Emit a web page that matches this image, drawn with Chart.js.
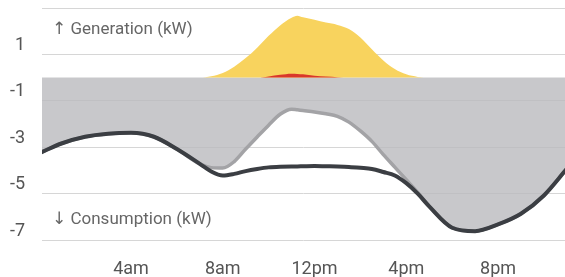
<!DOCTYPE html>
<html><head><meta charset="utf-8">
<style>html,body{margin:0;padding:0;background:#fff}#wrap{width:565px;height:277px;position:relative}</style>
<script src="https://cdn.jsdelivr.net/npm/chart.js@4"></script>
</head><body><div id="wrap"><canvas id="c"></canvas></div>
<script>
const hours = [0,1,2,3,4,5,6,7,7.5,8,8.5,9,9.5,10,10.5,11,11.25,11.5,12,12.5,13,13.5,14,14.5,15,15.5,16,16.5,17,18,19,20,21,22,23];
const consumption = [-3.26,-2.83,-2.55,-2.42,-2.38,-2.55,-3.08,-3.72,-4.05,-4.22,-4.15,-4.03,-3.94,-3.87,-3.84,-3.83,-3.83,-3.82,-3.81,-3.82,-3.83,-3.85,-3.89,-3.94,-4.07,-4.22,-4.55,-5.0,-5.55,-6.47,-6.62,-6.33,-5.87,-5.08,-3.93];
const netGrid = [-3.26,-2.83,-2.55,-2.42,-2.38,-2.55,-3.08,-3.72,-3.88,-3.9,-3.62,-3.08,-2.56,-2.05,-1.58,-1.36,-1.39,-1.42,-1.48,-1.56,-1.67,-1.92,-2.3,-2.75,-3.32,-3.86,-4.4,-4.95,-5.55,-6.47,-6.62,-6.33,-5.87,-5.08,-3.93];
const generation = [0,0,0,0,0,0,0,0,0.06,0.2,0.47,0.84,1.29,1.8,2.25,2.58,2.67,2.6,2.49,2.37,2.27,2.09,1.73,1.22,0.74,0.37,0.14,0.03,0,0,0,0,0,0,0];
const exported = [0,0,0,0,0,0,0,0,0,0,0,0,0,0.05,0.12,0.17,0.16,0.14,0.08,0.05,0.02,0,0,0,0,0,0,0,0,0,0,0,0,0,0];
const timeTicks = [4,8,12,16,20];
const timeLabels = ['4am','8am','12pm','4pm','8pm'];
const yTicks = [-7,-5,-3,-1,1,3];

const pts = arr => hours.map((h,i)=>({x:h,y:arr[i]}));
const FONT = "Roboto, 'DejaVu Sans', sans-serif";

const notes = {
  id:'notes',
  afterDraw(chart){
    const ctx = chart.ctx, a = chart.chartArea;
    ctx.save();
    ctx.font = "17px " + FONT;
    ctx.fillStyle = '#666';
    ctx.textBaseline = 'middle';
    ctx.fillText('↑ Generation (kW)', a.left + 10, a.top + 22);
    ctx.fillText('↓ Consumption (kW)', a.left + 10, a.top + 212);
    ctx.restore();
  }
};

new Chart(document.getElementById('c'), {
  type:'line',
  data:{datasets:[
    {data:pts(consumption), borderColor:'#3b3e43', borderWidth:4, fill:false, order:1},
    {data:pts(exported), borderWidth:0, backgroundColor:'#d9372b', fill:'origin', order:2},
    {data:pts(generation), borderWidth:0, backgroundColor:'#f8d35e', fill:'origin', order:3},
    {data:pts(netGrid), borderColor:'#a3a3a6', borderWidth:3.5, backgroundColor:'rgba(186,186,190,0.8)', fill:'origin', order:4}
  ]},
  options:{
    responsive:true, maintainAspectRatio:false, animation:false,
    layout:{padding:{top:8,left:0,right:0,bottom:0}},
    elements:{point:{radius:0}, line:{cubicInterpolationMode:'monotone'}},
    plugins:{legend:{display:false}, tooltip:{enabled:false}},
    scales:{
      x:{type:'linear', min:0.12, max:22.92,
        afterBuildTicks(s){ s.ticks = timeTicks.map(v=>({value:v})); },
        afterFit(s){ s.height = 37; s.paddingLeft = 0; s.paddingRight = 0; },
        grid:{display:false}, border:{display:false},
        ticks:{callback:(v)=>timeLabels[timeTicks.indexOf(v)], color:'#555', font:{family:FONT, size:18}, padding:11, maxRotation:0, autoSkip:false}
      },
      y:{min:-7, max:3,
        afterBuildTicks(s){ s.ticks = yTicks.map(v=>({value:v})); },
        afterFit(s){ s.width = 42; s.paddingTop = 0; s.paddingBottom = 0; },
        grid:{color:'#d6d6d6', lineWidth:1, drawTicks:false}, border:{display:false},
        ticks:{callback:(v)=> v===3 ? '' : String(v), color:'#555', font:{family:FONT, size:18}, padding:17, labelOffset:-9}
      }
    }
  },
  plugins:[notes]
});
</script></body></html>
